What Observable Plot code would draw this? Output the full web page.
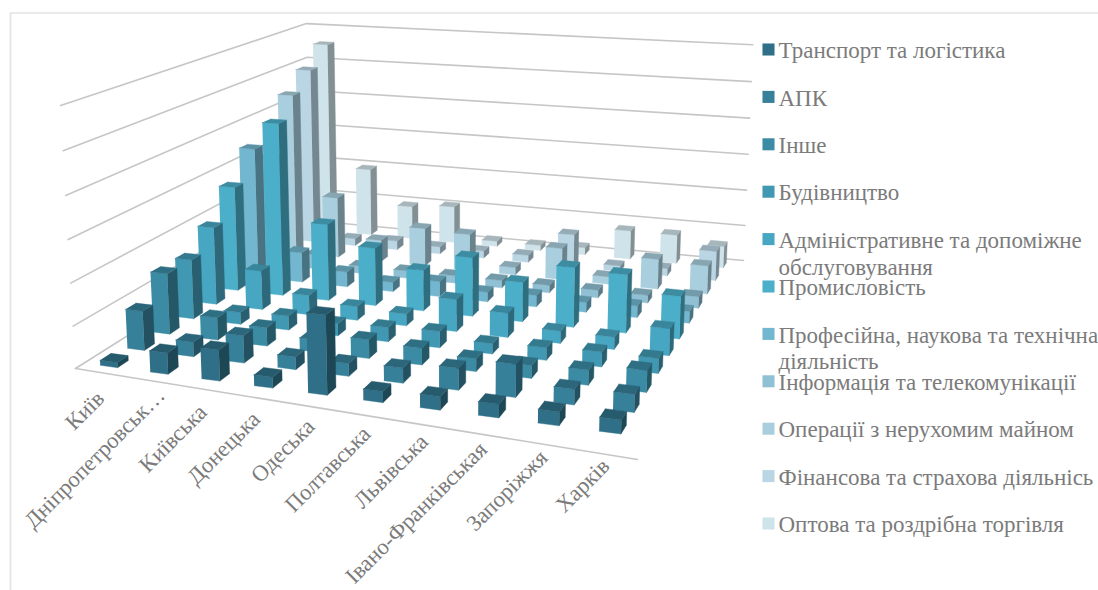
<!DOCTYPE html>
<html><head><meta charset="utf-8">
<script src="https://cdn.jsdelivr.net/npm/d3@7"></script>
<script src="https://cdn.jsdelivr.net/npm/@observablehq/plot@0.6"></script>
<style>html,body{margin:0;padding:0;background:#fff}svg{display:block}</style>
</head><body><div id="chart"></div>
<script>
const regions = ["Київ","Дніпропетровськ…","Київська","Донецька","Одеська","Полтавська","Львівська","Івано-Франківськая","Запоріжжя","Харків"];
const seriesNames = ["Транспорт та логістика","АПК","Інше","Будівництво","Адміністративне та допоміжне\nобслуговування","Промисловість","Професійна, наукова та технічна\nдіяльність","Інформація та телекомунікації","Операції з нерухомим майном","Фінансова та страхова діяльнісь","Оптова та роздрібна торгівля"];
const transport = [.12,.5,.72,.25,1.8,.25,.3,.3,.3,.3];
const apk       = [.95,.35,.65,.3,.3,.35,.5,.75,.35,.4];
const inshe     = [1.5,.55,.45,.3,.45,.4,.3,.3,.35,.5];
const budivn    = [1.5,.3,.35,.3,.35,.4,.25,.3,.35,.35];
const admin     = [2.0,1.0,.5,.35,.3,.8,.6,.3,.3,.65];
const prom      = [2.75,4.5,2.0,1.5,1.05,1.5,1.0,1.5,1.45,1.05];
const prof      = [3.5,.8,.4,.25,.4,.25,.3,.25,.3,.3];
const inform    = [3.0,.4,.2,.2,.2,.2,.2,.2,.2,.3];
const oper      = [4.5,1.7,.6,1.05,1.0,.2,.85,.2,.8,.75];
const fin       = [5.0,.2,.25,.2,.2,.2,.9,.15,.2,.8];
const opt       = [5.55,1.95,.95,1.05,.15,.15,.2,.8,.8,.6];
const values = [transport,apk,inshe,budivn,admin,prom,prof,inform,oper,fin,opt];
const colors = ["#2f7088","#37809a","#3b8ba4","#4098b3","#47a6c2","#4bafca","#72b7cf","#8fc0d3","#a9cfdf","#bad6e4","#cfe3ea"];
const gridLevels = [0,1,2,3,4,5,6];

const W=1098,H=590;
const A=[75,368],B=[637,443],E=[743,260],C=[310,220],V=[450,7000],topA=105,edge=[637,459];
const dx1=B[0]-E[0],dx2=C[0]-E[0],sx=A[0]-B[0]+E[0]-C[0];
const dy1=B[1]-E[1],dy2=C[1]-E[1],sy=A[1]-B[1]+E[1]-C[1];
const den=dx1*dy2-dx2*dy1, g=(sx*dy2-dx2*sy)/den, h=(dx1*sy-sx*dy1)/den;
const a=B[0]-A[0]+g*B[0], b=C[0]-A[0]+h*C[0], d=B[1]-A[1]+g*B[1], e=C[1]-A[1]+h*C[1];
const kz=(topA-A[1])/(V[1]-topA)/6;
function project(u,v,z0){const z=z0*(1-.018*v),w=g*u+h*v+1+kz*z;return [(a*u+b*v+A[0]+kz*z*V[0])/w,(d*u+e*v+A[1]+kz*z*V[1])/w];}

const nU=regions.length,nV=seriesNames.length,hw=.175,hd=.2;
function shade(c,f){const r=d3.rgb(c);return d3.rgb(r.r*f,r.g*f,r.b*f).formatHex();}
const polys=[];let id=0;
function face(pts,fill){id++;pts.forEach(p=>{const q=project(...p);polys.push({id,x:q[0],y:q[1],fill});});}
for(let j=nV-1;j>=0;j--)for(let i=0;i<nU;i++){
  const v0=(j+.5-hd)/nV,v1=(j+.5+hd)/nV,vm=(j+.5)/nV,sh=.012*vm*(1-i/nU),u0=(i+.5-hw)/nU+sh,u1=(i+.5+hw)/nU+sh,z=values[j][i],c=colors[j];
  face([[u0,v0,0],[u1,v0,0],[u1,v0,z],[u0,v0,z]],c);
  face([[u1,v0,0],[u1,v1,0],[u1,v1,z],[u1,v0,z]],shade(c,.63));
  face([[u0,v0,z],[u1,v0,z],[u1,v1,z],[u0,v1,z]],shade(c,.8));
}
const grid=[];
gridLevels.forEach(l=>{[[0,0],[0,1],[1,1]].forEach(p=>{const q=project(p[0],p[1],l);grid.push({l,x:q[0],y:q[1]});});});
const front=[{x:A[0],y:A[1]},{x:edge[0],y:edge[1]}];
// the truncated label sits a little further along its slant than the others
const ticks=regions.map((r,i)=>{const q=project((i+.5)/nU,0,0),t=r.endsWith("…")?10:0;return {r,x:q[0]+t,y:q[1]-t};});
const leg=seriesNames.map((s,i)=>({s,c:colors[i],y:49+47.4*i}));

const fig=Plot.plot({width:W,height:H,margin:0,
  x:{domain:[0,W],range:[0,W],axis:null},y:{domain:[0,H],range:[0,H],axis:null},
  marks:[
    Plot.line(grid,{x:"x",y:"y",z:"l",stroke:"#c6c6c6",strokeWidth:1.6}),
    Plot.line(front,{x:"x",y:"y",stroke:"#c6c6c6",strokeWidth:1.6}),
    Plot.ruleX([10],{y1:12.5,y2:H,stroke:"#e3e3e3",strokeWidth:1.7}),
    Plot.ruleY([12.5],{x1:10,x2:W,stroke:"#e3e3e3",strokeWidth:1.7}),
    Plot.line(polys,{x:"x",y:"y",z:"id",fill:"fill",stroke:"fill",strokeWidth:.4}),
    Plot.text(ticks,{x:"x",y:"y",text:"r",rotate:-45,textAnchor:"end",dy:23,fontFamily:"Liberation Serif",fontSize:22.6,fill:"#7b7b7b"}),
    Plot.dot(leg,{x:768,y:"y",symbol:"square",r:6.8,fill:"c"}),
    Plot.text(leg,{x:778,y:"y",text:"s",lineAnchor:"top",dy:-10.5,textAnchor:"start",lineHeight:1.17,fontFamily:"Liberation Serif",fontSize:23,fill:"#7b7b7b"})
  ]});
document.getElementById("chart").appendChild(fig);
</script></body></html>
